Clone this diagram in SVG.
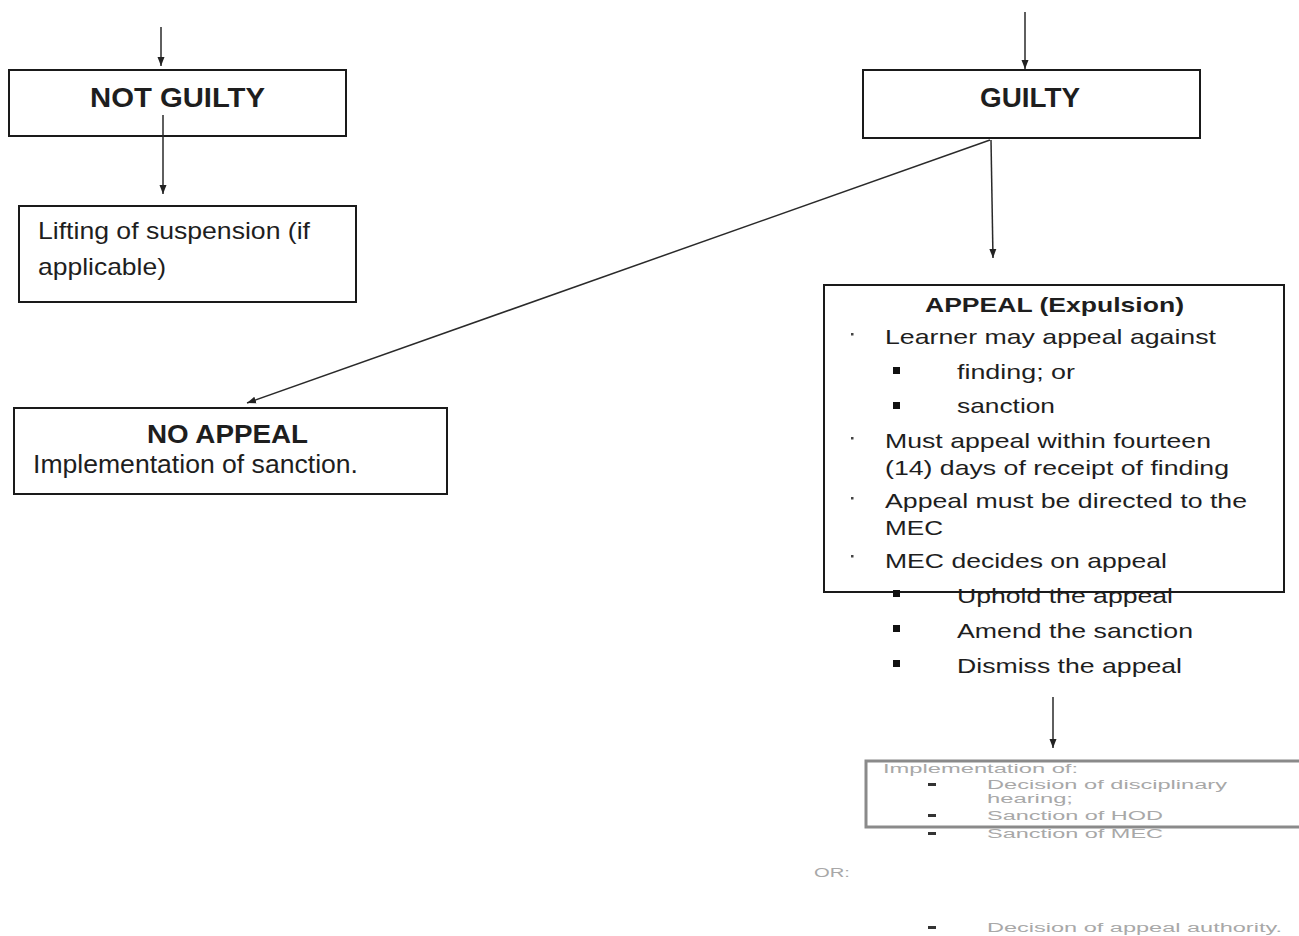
<svg xmlns="http://www.w3.org/2000/svg" width="1299" height="936" viewBox="0 0 1299 936">
<defs>
<marker id="ah" markerUnits="userSpaceOnUse" markerWidth="12" markerHeight="10" refX="9" refY="4" orient="auto">
<path d="M0,0.5 L9,4 L0,7.5 Z" fill="#222"/>
</marker>
<style>
.box{fill:#fff;stroke:#1a1a1a;stroke-width:2}
.t{font-family:"Liberation Sans",Arial,sans-serif;fill:#1e1e1e}
.b{font-weight:bold}
.c{stroke:#2a2a2a;stroke-width:1.5;fill:none}
.sq{fill:#111}
.dot{fill:#444}
.lt{font-family:"Liberation Sans",Arial,sans-serif;fill:#a8a8a8;font-size:12px}
.dash{fill:#333}
</style>
</defs>
<rect width="1299" height="936" fill="#fff"/>

<g id="not-guilty">
<rect class="box" x="9" y="70" width="337" height="66"/>
<text class="t b" x="90" y="107" font-size="27" textLength="175" lengthAdjust="spacingAndGlyphs">NOT GUILTY</text>
</g>

<g id="lifting">
<rect class="box" x="19" y="206" width="337" height="96"/>
<text class="t" x="38" y="239" font-size="24" textLength="272" lengthAdjust="spacingAndGlyphs">Lifting of suspension (if</text>
<text class="t" x="38" y="275" font-size="24" textLength="128" lengthAdjust="spacingAndGlyphs">applicable)</text>
</g>

<g id="guilty">
<rect class="box" x="863" y="70" width="337" height="68"/>
<text class="t b" x="980" y="107" font-size="27" textLength="100" lengthAdjust="spacingAndGlyphs">GUILTY</text>
</g>

<g id="no-appeal">
<rect class="box" x="14" y="408" width="433" height="86"/>
<text class="t b" x="147" y="443" font-size="25" textLength="161" lengthAdjust="spacingAndGlyphs">NO APPEAL</text>
<text class="t" x="33" y="473" font-size="26" textLength="325" lengthAdjust="spacingAndGlyphs">Implementation of sanction.</text>
</g>

<g id="appeal">
<rect class="box" x="824" y="285" width="460" height="307" style="fill:none"/>
<text class="t b" x="925" y="312" font-size="21" textLength="259" lengthAdjust="spacingAndGlyphs">APPEAL (Expulsion)</text>
<rect class="dot" x="851" y="333" width="2.5" height="2.5"/>
<text class="t" x="885" y="344" font-size="21" textLength="331" lengthAdjust="spacingAndGlyphs">Learner may appeal against</text>
<rect class="sq" x="893" y="367" width="7" height="7"/>
<text class="t" x="957" y="379" font-size="21" textLength="118" lengthAdjust="spacingAndGlyphs">finding; or</text>
<rect class="sq" x="893" y="402" width="7" height="7"/>
<text class="t" x="957" y="413" font-size="21" textLength="98" lengthAdjust="spacingAndGlyphs">sanction</text>
<rect class="dot" x="851" y="437" width="2.5" height="2.5"/>
<text class="t" x="885" y="448" font-size="21" textLength="326" lengthAdjust="spacingAndGlyphs">Must appeal within fourteen</text>
<text class="t" x="885" y="475" font-size="21" textLength="344" lengthAdjust="spacingAndGlyphs">(14) days of receipt of finding</text>
<rect class="dot" x="851" y="497" width="2.5" height="2.5"/>
<text class="t" x="885" y="508" font-size="21" textLength="362" lengthAdjust="spacingAndGlyphs">Appeal must be directed to the</text>
<text class="t" x="885" y="535" font-size="21" textLength="58" lengthAdjust="spacingAndGlyphs">MEC</text>
<rect class="dot" x="851" y="555" width="2.5" height="2.5"/>
<text class="t" x="885" y="568" font-size="21" textLength="282" lengthAdjust="spacingAndGlyphs">MEC decides on appeal</text>
<rect class="sq" x="893" y="590" width="7" height="7"/>
<text class="t" x="957" y="603" font-size="21" textLength="216" lengthAdjust="spacingAndGlyphs">Uphold the appeal</text>
<rect class="sq" x="893" y="625" width="7" height="7"/>
<text class="t" x="957" y="638" font-size="21" textLength="236" lengthAdjust="spacingAndGlyphs">Amend the sanction</text>
<rect class="sq" x="893" y="660" width="7" height="7"/>
<text class="t" x="957" y="673" font-size="21" textLength="225" lengthAdjust="spacingAndGlyphs">Dismiss the appeal</text>
</g>

<g id="implementation">
<rect x="866" y="761" width="460" height="66" fill="none" stroke="#8a8a8a" stroke-width="3"/>
<text class="lt" x="883" y="773" textLength="195" lengthAdjust="spacingAndGlyphs">Implementation of:</text>
<rect class="dash" x="928" y="783" width="8" height="3"/>
<text class="lt" x="987" y="789" textLength="240" lengthAdjust="spacingAndGlyphs">Decision of disciplinary</text>
<text class="lt" x="987" y="803" textLength="86" lengthAdjust="spacingAndGlyphs">hearing;</text>
<rect class="dash" x="928" y="814" width="8" height="3"/>
<text class="lt" x="987" y="820" textLength="176" lengthAdjust="spacingAndGlyphs">Sanction of HOD</text>
<rect class="dash" x="928" y="832" width="8" height="3"/>
<text class="lt" x="987" y="838" textLength="176" lengthAdjust="spacingAndGlyphs">Sanction of MEC</text>
<text class="lt" x="814" y="877" textLength="36" lengthAdjust="spacingAndGlyphs">OR:</text>
<rect class="dash" x="928" y="926" width="8" height="3"/>
<text class="lt" x="987" y="932" textLength="295" lengthAdjust="spacingAndGlyphs">Decision of appeal authority.</text>
</g>

<g id="connectors">
<line class="c" x1="161" y1="27" x2="161" y2="66" stroke-width="2" marker-end="url(#ah)"/>
<line class="c" x1="163" y1="115" x2="163" y2="194" marker-end="url(#ah)"/>
<line class="c" x1="1025" y1="12" x2="1025" y2="69" stroke-width="2" marker-end="url(#ah)"/>
<line class="c" x1="991" y1="140" x2="993" y2="258" marker-end="url(#ah)"/>
<line class="c" x1="990" y1="140" x2="247" y2="403" marker-end="url(#ah)"/>
<line class="c" x1="1053" y1="697" x2="1053" y2="748" stroke-width="2" marker-end="url(#ah)"/>
</g>
</svg>
